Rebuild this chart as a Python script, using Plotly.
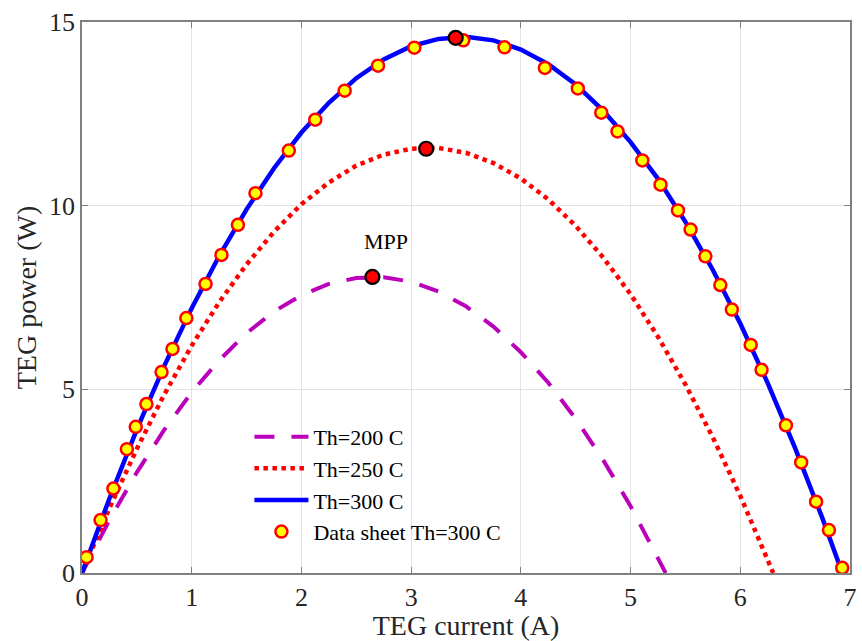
import plotly.graph_objects as go

# TEG current (A) grid for the simulated curves
i_200 = [0, 0.25, 0.5, 0.75, 1.0, 1.25, 1.5, 1.75, 2.0, 2.25, 2.5, 2.75, 3.0, 3.25, 3.5, 3.75, 4.0, 4.25, 4.5, 4.75, 5.0, 5.32]
p_200 = [0, 1.44, 2.74, 3.90, 4.92, 5.79, 6.53, 7.12, 7.56, 7.87, 8.03, 8.05, 7.93, 7.66, 7.26, 6.71, 6.01, 5.18, 4.20, 3.08, 1.82, 0]

i_250 = [0, 0.25, 0.5, 0.75, 1.0, 1.25, 1.5, 1.75, 2.0, 2.25, 2.5, 2.75, 3.0, 3.25, 3.5, 3.75, 4.0, 4.25, 4.5, 4.75, 5.0, 5.25, 5.5, 5.75, 6.0, 6.3]
p_250 = [0, 1.77, 3.38, 4.86, 6.19, 7.37, 8.40, 9.29, 10.04, 10.63, 11.09, 11.39, 11.55, 11.57, 11.44, 11.16, 10.74, 10.17, 9.45, 8.59, 7.59, 6.43, 5.13, 3.69, 2.10, 0]

i_300 = [0, 0.25, 0.5, 0.75, 1.0, 1.25, 1.5, 1.75, 2.0, 2.25, 2.5, 2.75, 3.0, 3.25, 3.5, 3.75, 4.0, 4.25, 4.5, 4.75, 5.0, 5.25, 5.5, 5.75, 6.0, 6.25, 6.5, 6.75, 6.93]
p_300 = [0, 2.03, 3.91, 5.64, 7.21, 8.63, 9.90, 11.02, 11.99, 12.80, 13.47, 13.98, 14.34, 14.54, 14.60, 14.50, 14.25, 13.85, 13.30, 12.59, 11.73, 10.73, 9.56, 8.25, 6.79, 5.17, 3.40, 1.48, 0]

# Data sheet points, Th=300 C
i_ds = [0.042, 0.169, 0.286, 0.409, 0.49, 0.587, 0.725, 0.825, 0.951, 1.126, 1.271, 1.421, 1.581,
        1.885, 2.126, 2.394, 2.698, 3.029, 3.475, 3.851, 4.219, 4.519, 4.733, 4.881, 5.107, 5.273,
        5.432, 5.547, 5.682, 5.818, 5.923, 6.095, 6.194, 6.416, 6.555, 6.691, 6.808, 6.929]
p_ds = [0.43, 1.44, 2.30, 3.37, 3.98, 4.60, 5.47, 6.10, 6.94, 7.87, 8.66, 9.48, 10.34,
        11.50, 12.34, 13.13, 13.81, 14.30, 14.50, 14.31, 13.75, 13.19, 12.53, 12.02, 11.23, 10.57,
        9.87, 9.35, 8.62, 7.84, 7.17, 6.21, 5.53, 4.02, 3.01, 1.94, 1.17, 0.14]

# Maximum power points
i_mpp = [2.647, 3.137, 3.406]
p_mpp = [8.06, 11.55, 14.57]

names = ["Th=200 C", "Th=250 C", "Th=300 C", "Data sheet Th=300 C"]
x_ticks = [0, 1, 2, 3, 4, 5, 6, 7]
y_ticks = [0, 5, 10, 15]

FONT = "Liberation Serif, Times New Roman, serif"

fig = go.Figure()
fig.add_trace(go.Scatter(x=i_200, y=p_200, mode="lines", name=names[0],
                         line=dict(color="#BB00BB", width=4, dash="20px,17px")))
fig.add_trace(go.Scatter(x=i_250, y=p_250, mode="lines", name=names[1],
                         line=dict(color="#FF0000", width=4.5, dash="dot")))
fig.add_trace(go.Scatter(x=i_300, y=p_300, mode="lines", name=names[2],
                         line=dict(color="#0000FF", width=4.5)))
fig.add_trace(go.Scatter(x=i_ds, y=p_ds, mode="markers", name=names[3],
                         marker=dict(color="#FFFF00", size=12, line=dict(color="#FF0000", width=2.5))))
fig.add_trace(go.Scatter(x=i_mpp, y=p_mpp, mode="markers", showlegend=False,
                         marker=dict(color="#FF0000", size=14, line=dict(color="#000000", width=2.2))))

fig.add_annotation(x=2.77, y=9.03, text="MPP", showarrow=False,
                   font=dict(family=FONT, size=22, color="#000000"))

axis_common = dict(showgrid=True, gridcolor="#E3E3E3", gridwidth=1, zeroline=False,
                   showline=True, linecolor="#808080", linewidth=1.5, mirror="ticks",
                   ticks="inside", ticklen=6, tickcolor="#808080", tickwidth=1,
                   tickfont=dict(family=FONT, size=26, color="#262626"))

fig.update_xaxes(range=[0, 7], tickvals=x_ticks, title=dict(text="TEG current (A)", standoff=2,
                 font=dict(family=FONT, size=28, color="#262626")), **axis_common)
fig.update_yaxes(range=[0, 15], tickvals=y_ticks, title=dict(text="TEG power (W)", standoff=4,
                 font=dict(family=FONT, size=28, color="#262626")), **axis_common)

fig.update_layout(
    width=862, height=641,
    margin=dict(l=82, r=5, t=22, b=68),
    paper_bgcolor="white", plot_bgcolor="white",
    showlegend=True,
    legend=dict(x=0.218, y=0.285, xanchor="left", yanchor="top",
                bgcolor="rgba(255,255,255,0)", borderwidth=0, itemwidth=54,
                font=dict(family=FONT, size=22, color="#000000"), tracegroupgap=0),
)

fig.write_html("out.html")
